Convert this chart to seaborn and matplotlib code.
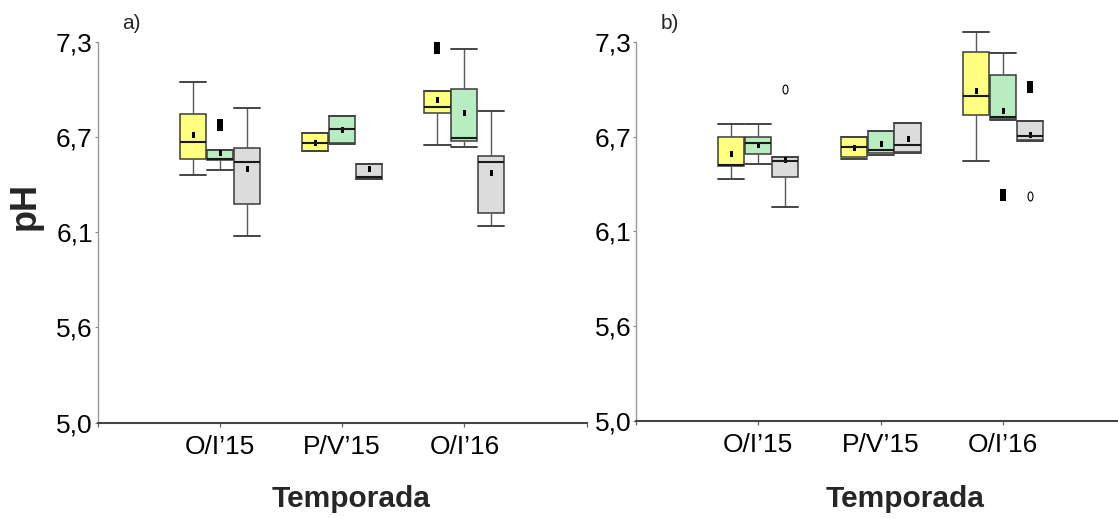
import numpy as np
import pandas as pd
import matplotlib
matplotlib.use("Agg")
import matplotlib.pyplot as plt
from matplotlib.path import Path
import seaborn as sns

# ---------------------------------------------------------------- data
temporadas = ["O/I’15", "P/V’15", "O/I’16"]
grupos = ["G1", "G2", "G3"]
colores = ["#FFFF80", "#B8EDC2", "#DCDCDC"]
y_etiquetas = ["5,0", "5,6", "6,1", "6,7", "7,3"]

# rows: temporada, columns: grupo  (pH)
a_min = [[6.495, 6.525, 6.127], [6.640, 6.680, 6.470], [6.678, 6.666, 6.187]]
a_q1 = [[6.594, 6.588, 6.320], [6.642, 6.687, 6.470], [6.867, 6.700, 6.264]]
a_med = [[6.697, 6.592, 6.576], [6.690, 6.770, 6.482], [6.906, 6.717, 6.576]]
a_q3 = [[6.862, 6.646, 6.660], [6.750, 6.850, 6.562], [7.000, 7.015, 6.610]]
a_max = [[7.055, 6.646, 6.900], [6.750, 6.850, 6.562], [7.000, 7.254, 6.880]]
a_media = [[6.737, 6.626, 6.530], [6.690, 6.767, 6.533], [6.948, 6.870, 6.509]]
a_extremos = [("O/I’15", "G2", 6.800), ("O/I’16", "G1", 7.265)]
a_atipicos = []

b_min = [[6.468, 6.557, 6.300], [6.587, 6.615, 6.623], [6.579, 6.827, 6.700]]
b_q1 = [[6.546, 6.620, 6.480], [6.600, 6.623, 6.633], [6.854, 6.831, 6.704]]
b_med = [[6.552, 6.688, 6.579], [6.660, 6.643, 6.676], [6.969, 6.843, 6.727]]
b_q3 = [[6.720, 6.720, 6.599], [6.720, 6.759, 6.810], [7.236, 7.096, 6.817]]
b_max = [[6.800, 6.800, 6.599], [6.720, 6.759, 6.810], [7.359, 7.233, 6.817]]
b_media = [[6.620, 6.672, 6.583], [6.655, 6.680, 6.710], [7.003, 6.880, 6.733]]
b_extremos = [("O/I’16", "G2", 6.371), ("O/I’16", "G3", 7.024)]
b_atipicos = [("O/I’15", "G3", 7.013), ("O/I’16", "G3", 6.364)]

# ---------------------------------------------------------------- style
ANCHO = 0.66      # total width of each dodged group
HUECO = 0.03      # gap between neighbouring boxes
ancho_caja = ANCHO / len(grupos) * (1 - HUECO)
separacion = 2 * ANCHO / len(grupos)

sns.set_theme(style="white")
plt.rcParams["font.family"] = ["Liberation Sans", "DejaVu Sans"]

marca_media = Path([(-0.27, -0.5), (0.27, -0.5), (0.27, 0.5), (-0.27, 0.5), (-0.27, -0.5)],
                   closed=True)
marca_extremo = Path([(-0.31, -0.5), (0.31, -0.5), (0.31, 0.5), (-0.31, 0.5), (-0.31, -0.5)],
                     closed=True)
_circ = Path.unit_circle()
marca_atipico = Path(_circ.vertices * np.array([0.55, 1.0]), _circ.codes)


def tabla_cajas(mn, q1, med, q3, mx):
    filas = []
    for i, t in enumerate(temporadas):
        for j, g in enumerate(grupos):
            for v in (mn[i][j], q1[i][j], med[i][j], q3[i][j], mx[i][j]):
                filas.append({"temporada": t, "grupo": g, "pH": v})
    return pd.DataFrame(filas)


def tabla_medias(media):
    return pd.DataFrame([{"temporada": t, "grupo": g, "pH": media[i][j]}
                         for i, t in enumerate(temporadas)
                         for j, g in enumerate(grupos)])


def puntos(ax, df, marker, size, **kw):
    if df.empty:
        return
    sns.pointplot(data=df, x="temporada", y="pH", hue="grupo",
                  order=temporadas, hue_order=grupos,
                  palette=["black"] * len(grupos), dodge=separacion,
                  markers=marker, linestyle="none", errorbar=None,
                  markersize=size, legend=False, ax=ax, **kw)


def panel(ax, mn, q1, med, q3, mx, media, extremos, atipicos):
    sns.boxplot(data=tabla_cajas(mn, q1, med, q3, mx), x="temporada", y="pH",
                hue="grupo", order=temporadas, hue_order=grupos,
                palette=colores, saturation=1, width=ANCHO, gap=HUECO,
                whis=(0, 100), showfliers=False, dodge=True,
                linecolor="#3a3a3a", linewidth=1.1, capwidths=ancho_caja,
                medianprops=dict(color="#1a1a1a", linewidth=1.5),
                whiskerprops=dict(color="#5a5a5a", linewidth=1.0),
                capprops=dict(color="#444444", linewidth=1.4),
                legend=False, ax=ax)
    puntos(ax, tabla_medias(media), marca_media, 4.0, markeredgewidth=0)
    puntos(ax, pd.DataFrame(extremos, columns=["temporada", "grupo", "pH"]),
           marca_extremo, 8.0, markeredgewidth=0)
    puntos(ax, pd.DataFrame(atipicos, columns=["temporada", "grupo", "pH"]),
           marca_atipico, 6.5, markeredgewidth=0.8, markerfacecolor="none")

    ax.set_xlim(-1, len(temporadas))
    ax.set_ylim(5.0, 7.45)
    ax.set_xticks(range(-1, len(temporadas) + 1), [""] + temporadas + [""])
    ax.set_yticks(np.linspace(5.0, 7.3, len(y_etiquetas)), y_etiquetas)
    ax.set_xlabel("")
    ax.set_ylabel("")
    for s in ("top", "right"):
        ax.spines[s].set_visible(False)
    ax.spines["left"].set_bounds(5.0, 7.3)
    ax.spines["left"].set_color("#999999")
    ax.spines["left"].set_linewidth(1.0)
    ax.spines["bottom"].set_color("#444444")
    ax.spines["bottom"].set_linewidth(1.5)
    ax.tick_params(axis="y", left=True, length=2.2, width=0.8, color="#888888",
                   pad=1.2, labelsize=19, labelcolor="black")
    ax.tick_params(axis="x", bottom=True, length=3, width=0.9, color="#666666",
                   pad=5.5, labelsize=19, labelcolor="black")
    ax.grid(False)


W, H = 1118, 518
fig = plt.figure(figsize=(W / 100, H / 100), dpi=100)
ax_a = fig.add_axes([97.5 / W, (H - 422.7) / H, 489.2 / W, 2.45 * 165.65 / H])
ax_b = fig.add_axes([636 / W, (H - 421) / H, 489.2 / W, 2.45 * 164.9 / H])

panel(ax_a, a_min, a_q1, a_med, a_q3, a_max, a_media, a_extremos, a_atipicos)
panel(ax_b, b_min, b_q1, b_med, b_q3, b_max, b_media, b_extremos, b_atipicos)

fig.text(122 / W, 1 - 29 / H, "a)", fontsize=15, va="baseline", ha="left")
fig.text(661 / W, 1 - 29 / H, "b)", fontsize=15, va="baseline", ha="left")
fig.text(25 / W, 1 - 206 / H, "pH", fontsize=26, fontweight="bold",
         rotation=90, ha="center", va="center")
fig.text(351 / W, 1 - 506.7 / H, "Temporada", fontsize=21.5, fontweight="bold",
         ha="center", va="baseline")
fig.text(905 / W, 1 - 506.7 / H, "Temporada", fontsize=21.5, fontweight="bold",
         ha="center", va="baseline")

fig.savefig("out.png", dpi=100)
